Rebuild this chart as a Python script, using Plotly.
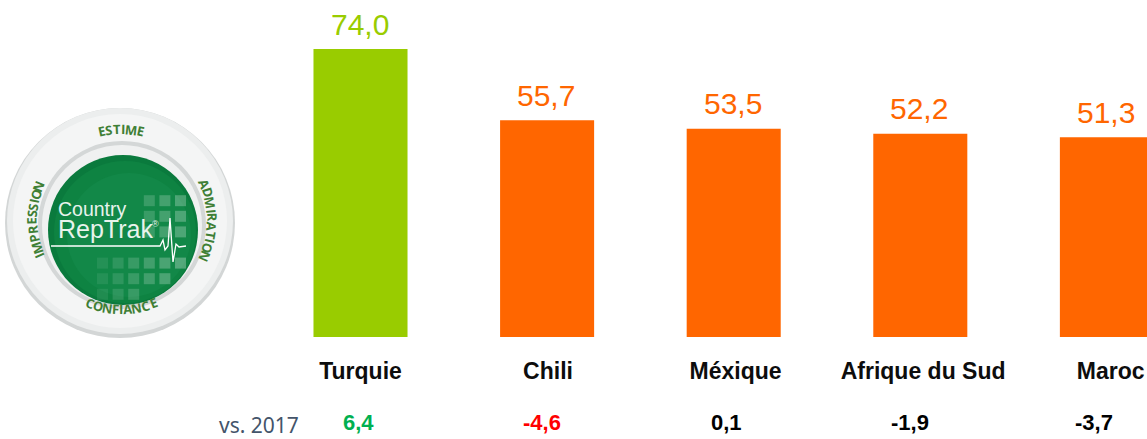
import math
import plotly.graph_objects as go

countries = ["Turquie", "Chili", "Méxique", "Afrique du Sud", "Maroc"]
scores = [74.0, 55.7, 53.5, 52.2, 51.3]
deltas = [6.4, -4.6, 0.1, -1.9, -3.7]
bar_colors = ["#99cc00", "#ff6600", "#ff6600", "#ff6600", "#ff6600"]
delta_colors = ["#00b050", "#ff0000", "#000000", "#000000", "#000000"]

W, H = 1147, 439
BASE = 337  # pixel row of the bars' baseline
SPACING = 186.6
X0 = 360.5
PX_PER_UNIT = 288 / 74


def fr(v):
    return f"{v:.1f}".replace(".", ",")


def px(x):
    return x / W


def py(y):
    return (BASE - y) / BASE


def circle(cx, cy, r, fill, opacity=1):
    return dict(type="circle", xref="paper", yref="paper",
                x0=px(cx - r), x1=px(cx + r), y0=py(cy + r), y1=py(cy - r),
                fillcolor=fill, opacity=opacity, line_width=0, layer="above")


def rect(x0, y0, x1, y1, fill, opacity):
    return dict(type="rect", xref="paper", yref="paper",
                x0=px(x0), x1=px(x1), y0=py(y1), y1=py(y0),
                fillcolor=fill, opacity=opacity, line_width=0, layer="above")


def polyline(points, width=1.3):
    path = "M " + " L ".join(f"{px(a):.5f},{py(b):.5f}" for a, b in points)
    return dict(type="path", path=path, xref="paper", yref="paper",
                line=dict(color="white", width=width), layer="above")


fig = go.Figure(go.Bar(
    x=list(range(len(countries))), y=scores,
    marker=dict(color=bar_colors, line_width=0),
    hoverinfo="skip",
))

annotations = []

# ---- value labels above the bars ----
for i, v in enumerate(scores):
    annotations.append(dict(
        text=fr(v), x=i, y=v, xref="x", yref="y",
        xanchor="center", yanchor="middle", yshift=25, xshift=-1, showarrow=False,
        font=dict(family="Liberation Sans", size=30, color=bar_colors[i]),
    ))

# ---- logo ----
CX, CY = 120, 221
shapes = [
    circle(CX, CY + 2, 115, "#d3d6d6"),
    circle(CX, CY, 113, "#eceeee"),
    circle(CX, CY, 107, "#f4f5f5"),
    circle(CX + 2, CY + 4, 84, "#d4d7d7"),
    circle(CX + 2, CY + 4, 80, "#f0f1f1"),
    circle(CX + 3, CY + 9, 75, "#0a7a3d"),
    circle(CX + 5, CY + 11, 71, "#0e8342"),
    circle(CX + 9, CY + 14, 62, "#128848"),
]
gcx, gcy, gr = CX + 3, CY + 9, 75
for i in range(0, 7):
    for j in range(-3, 5):
        x = 97 + i * 15.6
        y = 242 + j * 15.6
        dist = math.hypot(x + 5.5 - gcx, y + 5.5 - gcy)
        if dist > gr - 6:
            continue
        if j < 0 and x < 140:
            continue
        if j == 0:
            continue
        op = 0.05 + 0.04 * i + (0.03 if j > 0 else 0)
        shapes.append(rect(x, y, x + 11, y + 11, "white", min(op, 0.32)))
shapes.append(polyline([(51, 246), (160, 246), (163, 240), (165, 250), (168, 246), (170, 218),
                        (173, 262), (176, 244), (179, 247), (186, 246)]))

LETTER_WIDTH = {"I": 0.42, "M": 1.15, "E": 0.72, "S": 0.72, "T": 0.75, "F": 0.7}


def ring_text(word, center, step, radius, flip=False):
    widths = [LETTER_WIDTH.get(ch, 0.88) for ch in word]
    total = sum(widths)
    pos = 0.0
    for ch, w in zip(word, widths):
        off = (pos + w / 2 - total / 2) * step
        pos += w
        theta = center - off if flip else center + off
        t = math.radians(theta)
        annotations.append(dict(
            text=f"<b>{ch}</b>", xref="paper", yref="paper",
            x=px(121 + radius * math.sin(t)), y=py(220 - radius * math.cos(t)),
            xanchor="center", yanchor="middle", showarrow=False,
            textangle=theta - 180 if flip else theta,
            font=dict(family="Open Sans", size=13, color="#3f7f35"),
        ))


ring_text("ESTIME", 0, 6.6, 91)
ring_text("ADMIRATION", 90, 6.6, 91)
ring_text("IMPRESSION", 270, 6.6, 89)
ring_text("CONFIANCE", 180, 6.6, 89, flip=True)

annotations.append(dict(text="Country", xref="paper", yref="paper", x=px(56), y=py(209),
                        xanchor="left", yanchor="middle", showarrow=False,
                        font=dict(family="Liberation Sans", size=19.5, color="#e8f3ec")))
annotations.append(dict(text="RepTrak", xref="paper", yref="paper", x=px(56), y=py(229),
                        xanchor="left", yanchor="middle", showarrow=False,
                        font=dict(family="Liberation Sans", size=25, color="#e8f3ec")))
annotations.append(dict(text="®", xref="paper", yref="paper", x=px(155), y=py(224),
                        xanchor="center", yanchor="middle", showarrow=False,
                        font=dict(family="Liberation Sans", size=9, color="#e8f3ec")))

# ---- comparison row ----
for i, d in enumerate(deltas):
    annotations.append(dict(
        text=f"<b>{fr(d)}</b>", x=i, xref="x", yref="paper", y=py(422),
        xshift=-2.5 - 2.6 * i,
        xanchor="center", yanchor="middle", showarrow=False,
        font=dict(family="Liberation Sans", size=22, color=delta_colors[i]),
    ))
annotations.append(dict(text="vs. 2017", xref="paper", yref="paper", x=px(259), y=py(425),
                        xanchor="center", yanchor="middle", showarrow=False,
                        font=dict(family="Noto Sans", size=21, color="#44546a")))

fig.update_layout(
    width=W, height=H, margin=dict(l=0, r=0, t=0, b=H - BASE, autoexpand=False),
    paper_bgcolor="white", plot_bgcolor="white", showlegend=False,
    bargap=0.496, shapes=shapes, annotations=annotations,
    xaxis=dict(range=[-X0 / SPACING, (W - X0) / SPACING],
               tickmode="array", tickvals=[i * 1.005 for i in range(len(countries))],
               ticktext=[f"<b>{c}</b>" for c in countries],
               tickfont=dict(family="Liberation Sans", size=23, color="#0d0d0d"),
               ticks="outside", ticklen=13, tickcolor="rgba(0,0,0,0)",
               showline=False, showgrid=False, zeroline=False, fixedrange=True),
    yaxis=dict(range=[0, BASE / PX_PER_UNIT], visible=False, fixedrange=True),
)

fig.write_html("out.html", config=dict(displayModeBar=False),
               post_script="document.body.style.margin='0';document.body.style.overflow='hidden';")
